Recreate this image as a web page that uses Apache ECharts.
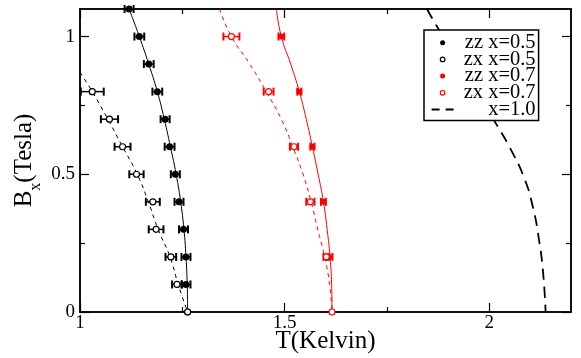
<!DOCTYPE html>
<html>
<head>
<meta charset="utf-8">
<script src="https://cdn.jsdelivr.net/npm/echarts@6/dist/echarts.min.js"></script>
<style>
  html, body { margin: 0; padding: 0; background: #fff; }
  #chart { width: 581px; height: 358px; }
</style>
</head>
<body>
<div id="chart"></div>
<script>
// 数据: T(Kelvin) / Bx(Tesla) / 误差
var zz05T = [1.120, 1.145, 1.168, 1.189, 1.208, 1.219, 1.233, 1.242, 1.253, 1.259, 1.259, 1.263]
var zz05B = [1.1, 1.0, 0.9, 0.8, 0.7, 0.6, 0.5, 0.4, 0.3, 0.2, 0.1, 0]
var zz05Err = [0.011, 0.012, 0.012, 0.012, 0.011, 0.012, 0.011, 0.011, 0.011, 0.011, 0.011, 0]

var zx05T = [1.030, 1.072, 1.104, 1.138, 1.178, 1.186, 1.222, 1.237, 1.263]
var zx05B = [0.8, 0.7, 0.6, 0.5, 0.4, 0.3, 0.2, 0.1, 0]
var zx05Err = [0.028, 0.021, 0.0195, 0.0175, 0.017, 0.018, 0.013, 0.012, 0]

var zz07T = [1.492, 1.536, 1.568, 1.595, 1.610, 1.616]
var zz07B = [1.0, 0.8, 0.6, 0.4, 0.2, 0]
var zz07Err = [0.007, 0.005, 0.005, 0.006, 0.007, 0]

var zx07T = [1.370, 1.461, 1.523, 1.563, 1.602, 1.616]
var zx07B = [1.0, 0.8, 0.6, 0.4, 0.2, 0]
var zx07Err = [0.0195, 0.012, 0.01, 0.01, 0.007, 0]

// 拟合曲线
var fitZz05T = [1.120, 1.145, 1.168, 1.189, 1.206, 1.221, 1.235, 1.246, 1.254, 1.259, 1.262, 1.263]
var fitZz05B = [1.1, 1.0, 0.9, 0.8, 0.7, 0.6, 0.5, 0.4, 0.3, 0.2, 0.1, 0]
var fitZx05T = [1.000, 1.030, 1.068, 1.104, 1.140, 1.167, 1.191, 1.220, 1.240, 1.263]
var fitZx05B = [0.87, 0.8, 0.7, 0.6, 0.5, 0.4, 0.3, 0.2, 0.1, 0]
var fitZz07T = [1.480, 1.492, 1.515, 1.536, 1.553, 1.568, 1.582, 1.595, 1.604, 1.611, 1.615, 1.616]
var fitZz07B = [1.1, 1.0, 0.9, 0.8, 0.7, 0.6, 0.5, 0.4, 0.3, 0.2, 0.1, 0]
var fitZx07T = [1.341, 1.370, 1.415, 1.455, 1.492, 1.520, 1.545, 1.565, 1.581, 1.598, 1.610, 1.616]
var fitZx07B = [1.1, 1.0, 0.9, 0.8, 0.7, 0.6, 0.5, 0.4, 0.3, 0.2, 0.1, 0]
var x10T = [1.848, 1.871, 2.017, 2.050, 2.085, 2.107, 2.122, 2.132, 2.138]
var x10B = [1.1, 1.04, 0.683, 0.598, 0.489, 0.38, 0.26, 0.14, 0]

// 刻度
var xMajor = [1, 1.5, 2]
var xMinor = [1.25, 1.75]
var yMajor = [0, 0.5, 1]
var yMinor = [0.25, 0.75]
var legendNames = ['zz x=0.5', 'zx x=0.5', 'zz x=0.7', 'zx x=0.7', 'x=1.0']

var FONT = '"Liberation Serif", "Times New Roman", serif'
var RED = '#ff0000'

function pairs (xs, ys) {
  return xs.map(function (x, i) { return [x, ys[i]] })
}
function triples (xs, ys, es) {
  return xs.map(function (x, i) { return [x, ys[i], es[i]] })
}

// 误差棒
function errBars (name, color, xs, ys, es) {
  return {
    name: name,
    type: 'custom',
    xAxisIndex: 0,
    yAxisIndex: 0,
    z: 3,
    encode: { x: 0, y: 1 },
    data: triples(xs, ys, es),
    renderItem: function (params, api) {
      var e = api.value(2)
      if (!e) return null
      var y = api.value(1)
      var lo = api.coord([api.value(0) - e, y])
      var hi = api.coord([api.value(0) + e, y])
      var st = { stroke: color, lineWidth: 1.5 }
      var cap = { stroke: color, lineWidth: 2 }
      return {
        type: 'group',
        children: [
          { type: 'line', shape: { x1: lo[0], y1: lo[1], x2: hi[0], y2: hi[1] }, style: st },
          { type: 'line', shape: { x1: lo[0], y1: lo[1] - 4, x2: lo[0], y2: lo[1] + 4 }, style: cap },
          { type: 'line', shape: { x1: hi[0], y1: hi[1] - 4, x2: hi[0], y2: hi[1] + 4 }, style: cap }
        ]
      }
    }
  }
}

function fitLine (name, color, xs, ys, dashed, width) {
  return {
    name: name,
    type: 'line',
    xAxisIndex: 0,
    yAxisIndex: 0,
    z: 2,
    smooth: true,
    symbol: 'none',
    silent: true,
    data: pairs(xs, ys),
    lineStyle: { color: color, width: width || 1, type: dashed || 'solid' }
  }
}

function dots (name, color, xs, ys, open, size) {
  return {
    name: name,
    type: 'scatter',
    xAxisIndex: 0,
    yAxisIndex: 0,
    z: 4,
    symbol: 'circle',
    symbolSize: size,
    data: pairs(xs, ys),
    itemStyle: open
      ? { color: '#fff', borderColor: color, borderWidth: 1.2, opacity: 1 }
      : { color: color, borderWidth: 0, opacity: 1 }
  }
}

function xAx (pos, ticks, len, withLabel) {
  var ax = {
    type: 'value',
    position: pos,
    min: 1,
    max: 2.2,
    axisLine: { show: true, onZero: false, lineStyle: { color: '#000', width: 1.5 } },
    axisTick: { show: true, inside: true, length: len, customValues: ticks, lineStyle: { color: '#000', width: 1.2 } },
    axisLabel: { show: !!withLabel, customValues: ticks, margin: 2, color: '#000', fontFamily: FONT, fontSize: 19 },
    splitLine: { show: false }
  }
  if (withLabel) {
    ax.name = 'T(Kelvin)'
    ax.nameLocation = 'middle'
    ax.nameGap = 17
    ax.nameMoveOverlap = false
    ax.nameTextStyle = { color: '#000', fontFamily: FONT, fontSize: 25, lineHeight: 25 }
  }
  return ax
}

function yAx (pos, ticks, len, withLabel) {
  var ax = {
    type: 'value',
    position: pos,
    min: 0,
    max: 1.1,
    axisLine: { show: true, onZero: false, lineStyle: { color: '#000', width: 1.5 } },
    axisTick: { show: true, inside: true, length: len, customValues: ticks, lineStyle: { color: '#000', width: 1.2 } },
    axisLabel: { show: !!withLabel, customValues: ticks, margin: 5, color: '#000', fontFamily: FONT, fontSize: 19 },
    splitLine: { show: false }
  }
  if (withLabel) {
    ax.name = '{b|B}{s|x}{b|(Tesla)}'
    ax.nameLocation = 'middle'
    ax.nameGap = 36
    ax.nameMoveOverlap = false
    ax.nameTextStyle = {
      color: '#000',
      fontFamily: FONT,
      rich: {
        b: { fontFamily: FONT, fontSize: 25, lineHeight: 25, color: '#000', verticalAlign: 'top' },
        s: { fontFamily: FONT, fontSize: 16, lineHeight: 32, color: '#000', verticalAlign: 'bottom' }
      }
    }
  }
  return ax
}

var chart = echarts.init(document.getElementById('chart'), null, { renderer: 'canvas' })

var legendRich = { a: { width: 77, align: 'right', fontFamily: FONT, fontSize: 20.5, color: '#000' } }

var option = {
  animation: false,
  backgroundColor: '#fff',
  grid: { left: 80, right: 10, top: 9, bottom: 46, containLabel: false, outerBoundsMode: 'none' },
  xAxis: [
    xAx('bottom', xMajor, 9, true),
    xAx('bottom', xMinor, 5, false),
    xAx('top', xMajor, 9, false),
    xAx('top', xMinor, 5, false)
  ],
  yAxis: [
    yAx('left', yMajor, 9, true),
    yAx('left', yMinor, 5, false),
    yAx('right', yMajor, 9, false),
    yAx('right', yMinor, 5, false)
  ],
  legend: {
    orient: 'vertical',
    left: 424,
    top: 30,
    padding: [2.2, 3, 0.5, 7],
    itemGap: -4.3,
    itemWidth: 22,
    itemHeight: 16.6,
    backgroundColor: '#fff',
    borderColor: '#000',
    borderWidth: 1.5,
    borderRadius: 0,
    selectedMode: false,
    formatter: function (name) { return '{a|' + name + '}' },
    textStyle: { fontFamily: FONT, fontSize: 20.5, color: '#000', rich: legendRich },
    data: [
      { name: legendNames[0], icon: 'path://M0,0M22,16.6M8.5,8.3a2.5,2.5 0 1,0 5,0a2.5,2.5 0 1,0 -5,0z', itemStyle: { color: '#000', borderWidth: 0 } },
      { name: legendNames[1], icon: 'path://M0,0M22,16.6M8.7,8.3a2.3,2.3 0 1,0 4.6,0a2.3,2.3 0 1,0 -4.6,0z', itemStyle: { color: '#fff', borderColor: '#000', borderWidth: 1.2 } },
      { name: legendNames[2], icon: 'path://M0,0M22,16.6M8.5,8.3a2.5,2.5 0 1,0 5,0a2.5,2.5 0 1,0 -5,0z', itemStyle: { color: RED, borderWidth: 0 } },
      { name: legendNames[3], icon: 'path://M0,0M22,16.6M8.7,8.3a2.3,2.3 0 1,0 4.6,0a2.3,2.3 0 1,0 -4.6,0z', itemStyle: { color: '#fff', borderColor: RED, borderWidth: 1.2 } },
      { name: legendNames[4], icon: 'path://M0,0M22,16.6M0,7.3h8v2h-8zM14,7.3h8v2h-8z', itemStyle: { color: '#000', borderWidth: 0 } }
    ]
  },
  series: [
    fitLine('fit zz 0.5', '#000', fitZz05T, fitZz05B, 'solid', 1),
    fitLine('fit zx 0.5', '#000', fitZx05T, fitZx05B, [4, 4], 1),
    fitLine('fit zz 0.7', RED, fitZz07T, fitZz07B, 'solid', 1),
    fitLine('fit zx 0.7', RED, fitZx07T, fitZx07B, [4, 4], 1),
    fitLine(legendNames[4], '#000', x10T, x10B, [11, 7], 1.8),
    errBars('err zz 0.5', '#000', zz05T, zz05B, zz05Err),
    errBars('err zx 0.5', '#000', zx05T, zx05B, zx05Err),
    errBars('err zz 0.7', RED, zz07T, zz07B, zz07Err),
    errBars('err zx 0.7', RED, zx07T, zx07B, zx07Err),
    dots(legendNames[0], '#000', zz05T, zz05B, false, 7),
    dots(legendNames[1], '#000', zx05T, zx05B, true, 6),
    dots(legendNames[2], RED, zz07T, zz07B, false, 6),
    dots(legendNames[3], RED, zx07T, zx07B, true, 6)
  ]
}

chart.setOption(option)
window.addEventListener('resize', function () { chart.resize() })
</script>
</body>
</html>
